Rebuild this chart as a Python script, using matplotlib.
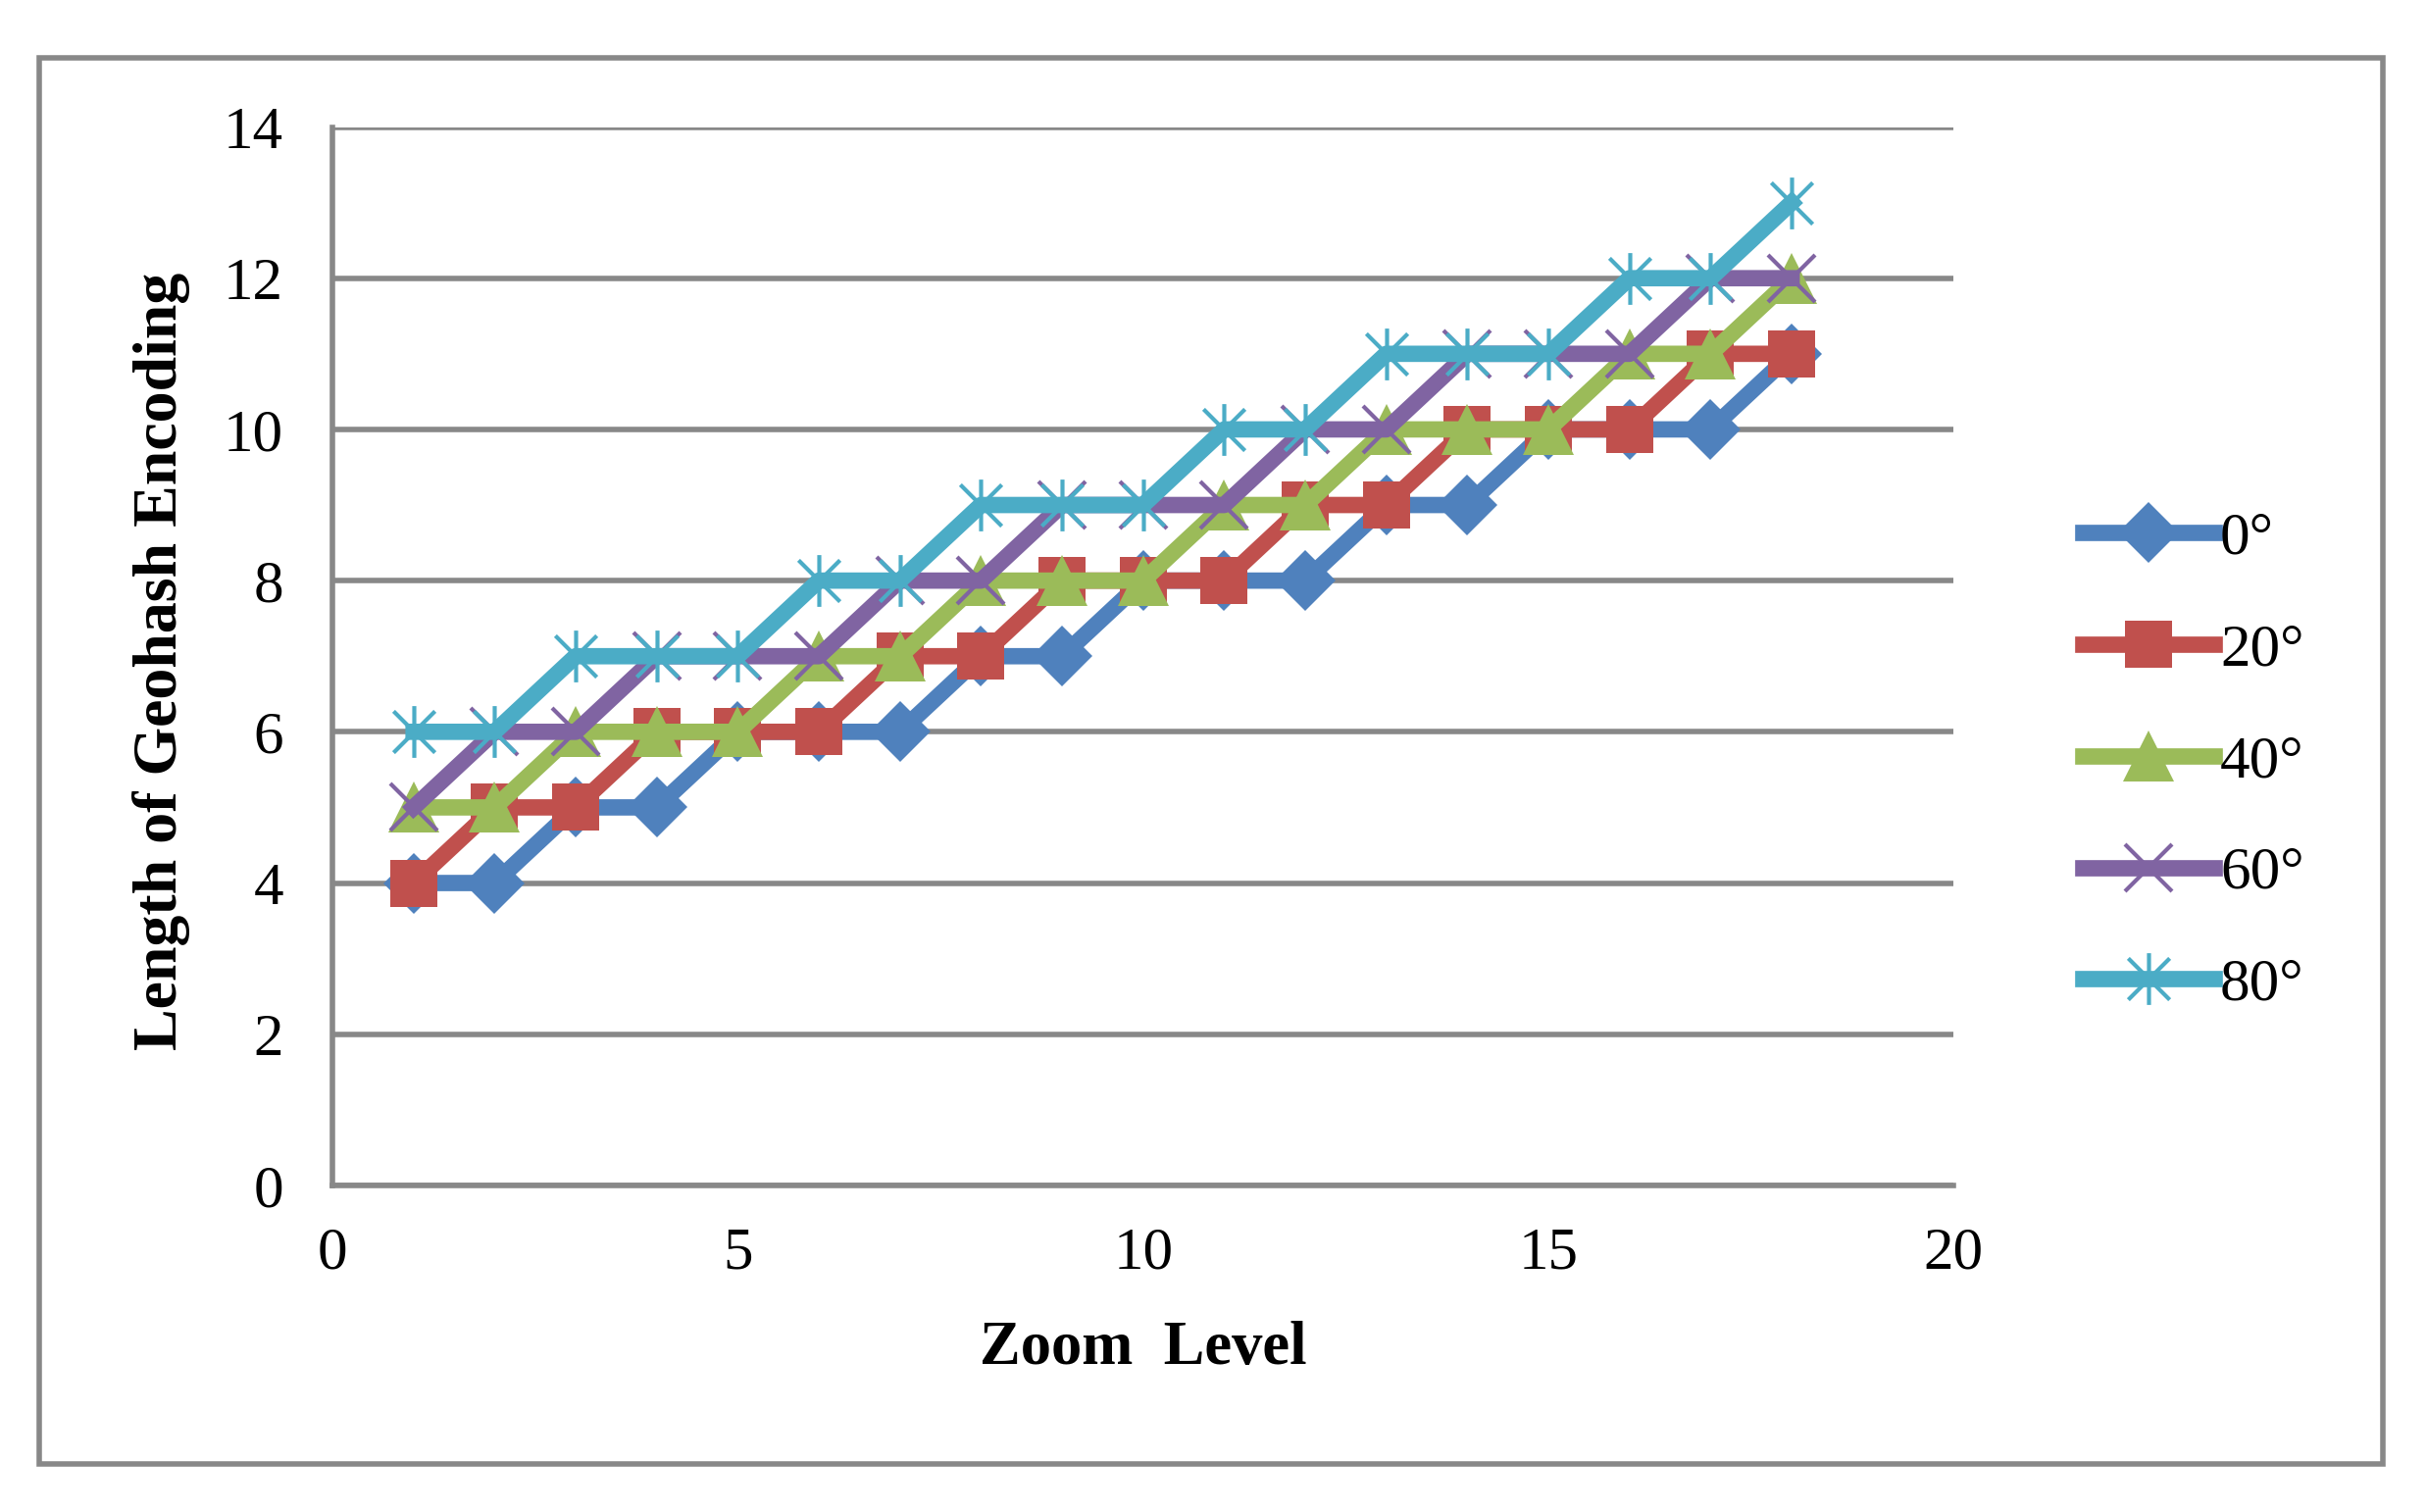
import numpy as np
import matplotlib
matplotlib.use("Agg")
from matplotlib import pyplot as plt
from matplotlib.path import Path
from matplotlib.patches import Rectangle

# zoom levels and geohash lengths per latitude
zoom = [1, 2, 3, 4, 5, 6, 7, 8, 9, 10, 11, 12, 13, 14, 15, 16, 17, 18]
len_0 = [4, 4, 5, 5, 6, 6, 6, 7, 7, 8, 8, 8, 9, 9, 10, 10, 10, 11]
len_20 = [4, 5, 5, 6, 6, 6, 7, 7, 8, 8, 8, 9, 9, 10, 10, 10, 11, 11]
len_40 = [5, 5, 6, 6, 6, 7, 7, 8, 8, 8, 9, 9, 10, 10, 10, 11, 11, 12]
len_60 = [5, 6, 6, 7, 7, 7, 8, 8, 9, 9, 9, 10, 10, 11, 11, 11, 12, 12]
len_80 = [6, 6, 7, 7, 7, 8, 8, 9, 9, 9, 10, 10, 11, 11, 11, 12, 12, 13]
labels = ["0°", "20°", "40°", "60°", "80°"]

plt.rcParams['font.family'] = ['Liberation Serif', 'DejaVu Serif']

# asterisk marker: vertical line plus an x
asterisk = Path(
    [(0, -1), (0, 1), (-0.8, -0.8), (0.8, 0.8), (-0.8, 0.8), (0.8, -0.8)],
    [Path.MOVETO, Path.LINETO, Path.MOVETO, Path.LINETO, Path.MOVETO, Path.LINETO])

styles = [
    dict(color='#4F81BD', marker='D', ms=32, mew=0),
    dict(color='#C0504D', marker='s', ms=34, mew=0),
    dict(color='#9BBB59', marker='^', ms=38, mew=0),
    dict(color='#8064A2', marker='x', ms=34, mew=3),
    dict(color='#4BACC6', marker=asterisk, ms=38, mew=3),
]

fig = plt.figure(figsize=(24.75, 15.42), dpi=100)
ax = fig.add_axes([0.137, 0.216, 0.668, 0.700])

series = [len_0, len_20, len_40, len_60, len_80]
for vals, lab, st in zip(series, labels, styles):
    ax.plot(zoom, vals, lw=12, label=lab, color=st['color'], marker=st['marker'],
            markersize=st['ms'], markeredgewidth=st['mew'],
            markeredgecolor=st['color'], markerfacecolor=st['color'],
            solid_joinstyle='round')

ax.set_xlim(0, 20)
ax.set_ylim(0, 14)
ax.set_xticks([0, 5, 10, 15, 20])
ax.set_yticks(np.arange(0, 15, 2))
ax.tick_params(length=0, labelsize=44)
ax.tick_params(axis='y', pad=36)
ax.tick_params(axis='x', pad=30)
ax.grid(axis='y', color='#888888', lw=4)
ax.set_axisbelow(True)
for s in ['top', 'right']:
    ax.spines[s].set_visible(False)
for s in ['left', 'bottom']:
    ax.spines[s].set_color('#888888')
    ax.spines[s].set_linewidth(4)

ax.set_xlabel("Zoom  Level", fontsize=45, fontweight='bold')
ax.set_ylabel("Length of Geohash Encoding", fontsize=46, fontweight='bold')
ax.xaxis.set_label_coords(0.5, -0.128)
ax.yaxis.set_label_coords(-0.088, 0.495)

fig.legend(loc='center left', bbox_to_anchor=(0.858, 0.496), frameon=False,
           borderaxespad=0, borderpad=0,
           fontsize=44, handlelength=2.2, handletextpad=0.1, labelspacing=0.95)

fig.patches.append(Rectangle((0.016, 0.032), 0.966, 0.930, transform=fig.transFigure,
                             fill=False, edgecolor='#888888', lw=4))

fig.savefig("out.png", dpi=100)
